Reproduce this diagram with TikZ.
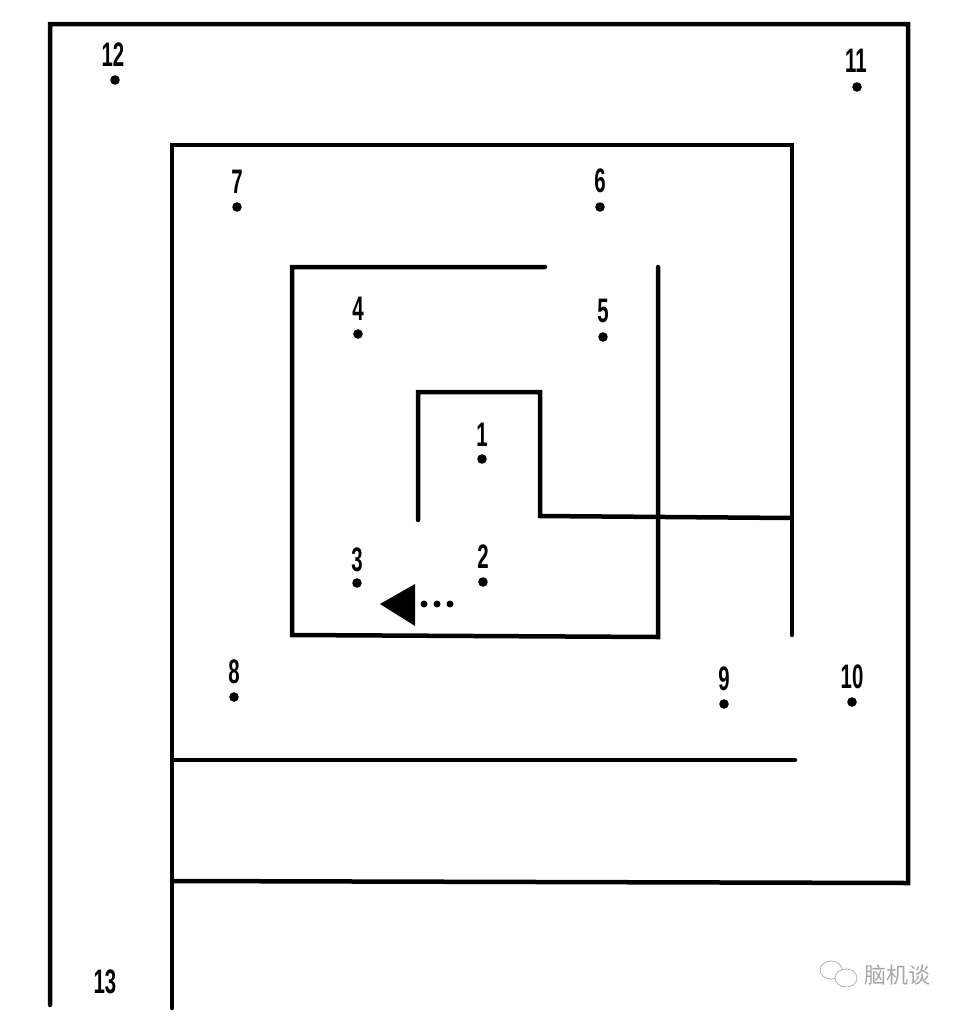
\documentclass[tikz,border=0pt]{standalone}
\usepackage{fontspec}
\usepackage{graphicx}
\usepackage{tikz}
\usetikzlibrary{calc,positioning}
\setsansfont{Liberation Sans}
\newfontfamily\cjk{Noto Sans CJK SC}
\newcommand{\colorMaze}{black}
\newcommand{\numlabel}[1]{\scalebox{0.6}[1]{\sffamily\bfseries #1}}
\tikzset{
  wall/.style={line width=4.5pt, color=\colorMaze, line cap=round, line join=miter},
  numtext/.style={font=\fontsize{34}{34}\selectfont, inner sep=0pt},
  markdot/.style={fill=\colorMaze}
}

\begin{document}
\begin{tikzpicture}[x=1pt, y=-1pt]
        \useasboundingbox (0, 0) rectangle (968, 1018);

        % outer spiral
        \draw[wall] (50, 1005) -- (50, 24) -- (908, 24) -- (908, 883) -- (172, 881);
        \draw[wall] (172, 1008) -- (172, 145) -- (792, 145) -- (792, 635);
        \draw[wall] (172, 760) -- (795, 760);

        % inner turns
        \draw[wall] (792, 518) -- (540, 516) -- (540, 392) -- (418, 392) -- (418, 520);
        \draw[wall] (545, 267) -- (292, 267) -- (292, 635) -- (658, 637) -- (658, 267);

        % arrow 2 -> 3
        \fill[\colorMaze] (380, 604) -- (415, 584) -- (415, 626) -- cycle;
        \fill[\colorMaze] (424, 604) circle (3.5pt);
        \fill[\colorMaze] (437, 604) circle (3.5pt);
        \fill[\colorMaze] (450, 604) circle (3.5pt);

        % numbered places
        \node[numtext] (n1) at (482, 435) {\numlabel{1}};
        \node[numtext] (n2) at (483, 557) {\numlabel{2}};
        \node[numtext] (n3) at (357, 560) {\numlabel{3}};
        \node[numtext] (n4) at (358, 309) {\numlabel{4}};
        \node[numtext] (n5) at (603, 311) {\numlabel{5}};
        \node[numtext] (n6) at (600, 181) {\numlabel{6}};
        \node[numtext] (n7) at (237, 182) {\numlabel{7}};
        \node[numtext] (n8) at (234, 672) {\numlabel{8}};
        \node[numtext] (n9) at (724, 679) {\numlabel{9}};
        \node[numtext] (n10) at (852, 677) {\numlabel{10}};
        \node[numtext] (n11) at (856, 61) {\numlabel{11}};
        \node[numtext] (n12) at (113, 55) {\numlabel{12}};
        \node[numtext] (n13) at (105, 982) {\numlabel{13}};

        \foreach \p in {(482, 459), (483, 582), (357, 583), (358, 334), (603, 337),
                        (600, 207), (237, 207), (234, 697), (724, 704), (852, 702),
                        (857, 87), (115, 80)}
          \fill[markdot] \p circle (4.8pt);

        % watermark
        \draw[gray!60, line width=0.8pt] (831, 970) ellipse (11pt and 9pt);
        \draw[gray!60, line width=0.8pt, fill=white] (846, 978) ellipse (11pt and 9pt);
        \node[gray!70, font=\cjk\fontsize{22}{22}\selectfont, anchor=west, inner sep=0pt]
          (wm) at (864, 975) {脑机谈};

      \end{tikzpicture}
\end{document}
